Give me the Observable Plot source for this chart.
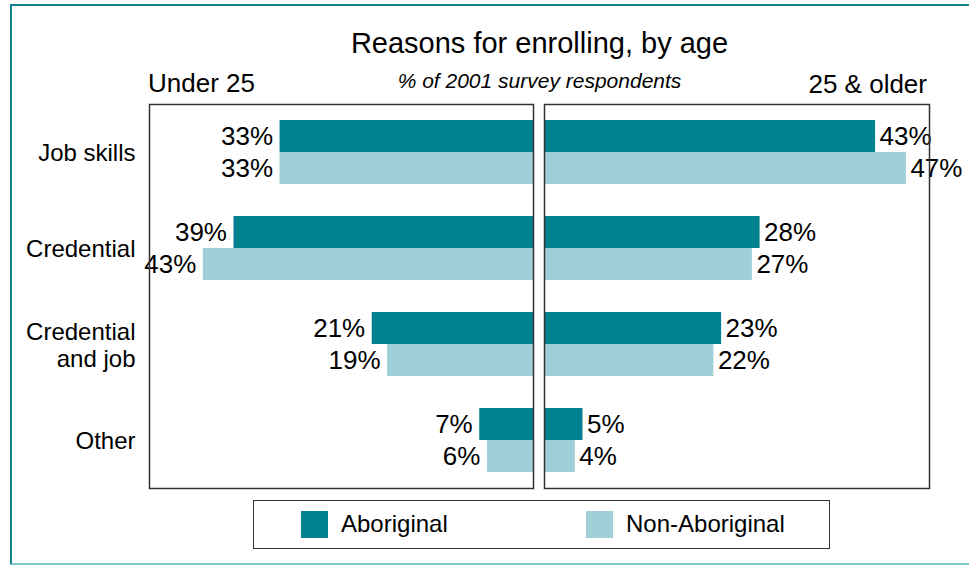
<!DOCTYPE html>
<html>
<head>
<meta charset="utf-8">
<script src="https://cdn.jsdelivr.net/npm/d3@7"></script>
<script src="https://cdn.jsdelivr.net/npm/@observablehq/plot@0.6"></script>
<style>
  html, body { margin: 0; padding: 0; background: #fff; }
  body { width: 969px; height: 565px; overflow: hidden; position: relative; font-family: "Liberation Sans", Arial, sans-serif; color: #000; }
  .abs { position: absolute; white-space: nowrap; }
  #border { position: absolute; left: 10px; top: 4px; width: 980px; height: 561px;
            border-top: 2px solid #14858f; border-left: 2px solid #14858f; border-bottom: 2px solid #7cc8ca; box-sizing: border-box; }
  .plotwrap { position: absolute; top: 0; }
  .plotwrap svg { background: transparent; max-width: none; }
  #legend { position: absolute; left: 253px; top: 500px; width: 577px; height: 49px; box-sizing: border-box;
            border: 1.5px solid #333; }
  .sw { position: absolute; top: 10px; width: 27px; height: 27px; }
  .lt { position: absolute; top: 8px; font-size: 24px; line-height: 30px; }
</style>
</head>
<body>
<div id="border"></div>
<div id="left" class="plotwrap" style="left:0px"></div>
<div id="right" class="plotwrap" style="left:538px"></div>
<div class="abs" id="title" style="left:0; width:1079px; text-align:center; top:29px; font-size:29px; line-height:29px;"></div>
<div class="abs" id="subtitle" style="left:0; width:1079px; text-align:center; top:70px; font-size:21px; line-height:21px; font-style:italic;"></div>
<div class="abs" id="leftTitle" style="left:148px; top:70px; font-size:26px; line-height:26px;"></div>
<div class="abs" id="rightTitle" style="right:42px; top:71px; font-size:26px; line-height:26px;"></div>
<div id="legend"></div>
<script>
// ---- data ----
const categories = ["Job skills", "Credential", "Credential and job", "Other"];
const categoryLabels = ["Job skills", "Credential", "Credential\nand job", "Other"];
const series = ["Aboriginal", "Non-Aboriginal"];
const seriesColors = ["#00818f", "#a0cfd7"];
const under25Aboriginal = [33, 39, 21, 7];
const under25NonAboriginal = [33, 43, 19, 6];
const olderAboriginal = [43, 28, 23, 5];
const olderNonAboriginal = [47, 27, 22, 4];
const panelTitles = ["Under 25", "25 & older"];
const chartTitle = "Reasons for enrolling, by age";
const chartSubtitle = "% of 2001 survey respondents";
const xDomain = [0, 50];

document.getElementById("title").textContent = chartTitle;
document.getElementById("subtitle").textContent = chartSubtitle;
document.getElementById("leftTitle").textContent = panelTitles[0];
document.getElementById("rightTitle").textContent = panelTitles[1];

const labelOf = new Map(categories.map((c, i) => [c, categoryLabels[i]]));

function rows(a, n) {
  return categories.map((c, i) => ({category: c, a: a[i], n: n[i]}));
}

const commonY = {
  type: "band",
  domain: categories,
  paddingInner: 1/3,
  paddingOuter: 1/6
};

const font = "'Liberation Sans', Arial, sans-serif";

function panel(data, side) {
  const left = side === "left";
  const marks = [
    Plot.barX(data, {x: "a", y: "category", fill: seriesColors[0], insetBottom: 32}),
    Plot.barX(data, {x: "n", y: "category", fill: seriesColors[1], insetTop: 32}),
    Plot.text(data, {x: "a", y: "category", dy: -16, text: d => d.a + "%", fontSize: 26,
      textAnchor: left ? "end" : "start", dx: left ? -7 : 4, fill: "#000"}),
    Plot.text(data, {x: "n", y: "category", dy: 16, text: d => d.n + "%", fontSize: 26,
      textAnchor: left ? "end" : "start", dx: left ? -7 : 4, fill: "#000"}),
    Plot.frame({stroke: "#333", strokeWidth: 1.5})
  ];
  if (left) {
    marks.push(Plot.axisY({tickSize: 0, tickPadding: 14, fontSize: 24, lineHeight: 1.12,
      tickFormat: d => labelOf.get(d), label: null}));
  }
  return Plot.plot({
    width: left ? 538 : 431,
    height: 500,
    marginTop: 104,
    marginBottom: 12,
    marginLeft: left ? 149 : 6,
    marginRight: left ? 5 : 40,
    style: {fontFamily: font, fontSize: "24px", background: "transparent", color: "#000", overflow: "visible"},
    x: {domain: xDomain, reverse: left, axis: null},
    y: {...commonY, axis: null},
    marks
  });
}

document.getElementById("left").appendChild(panel(rows(under25Aboriginal, under25NonAboriginal), "left"));
document.getElementById("right").appendChild(panel(rows(olderAboriginal, olderNonAboriginal), "right"));

// legend
const legend = document.getElementById("legend");
const swLeft = [47, 332];
series.forEach((s, i) => {
  const sw = document.createElement("div");
  sw.className = "sw";
  sw.style.left = swLeft[i] + "px";
  sw.style.background = seriesColors[i];
  legend.appendChild(sw);
  const t = document.createElement("div");
  t.className = "lt";
  t.style.left = (swLeft[i] + 40) + "px";
  t.textContent = s;
  legend.appendChild(t);
});
</script>
</body>
</html>
